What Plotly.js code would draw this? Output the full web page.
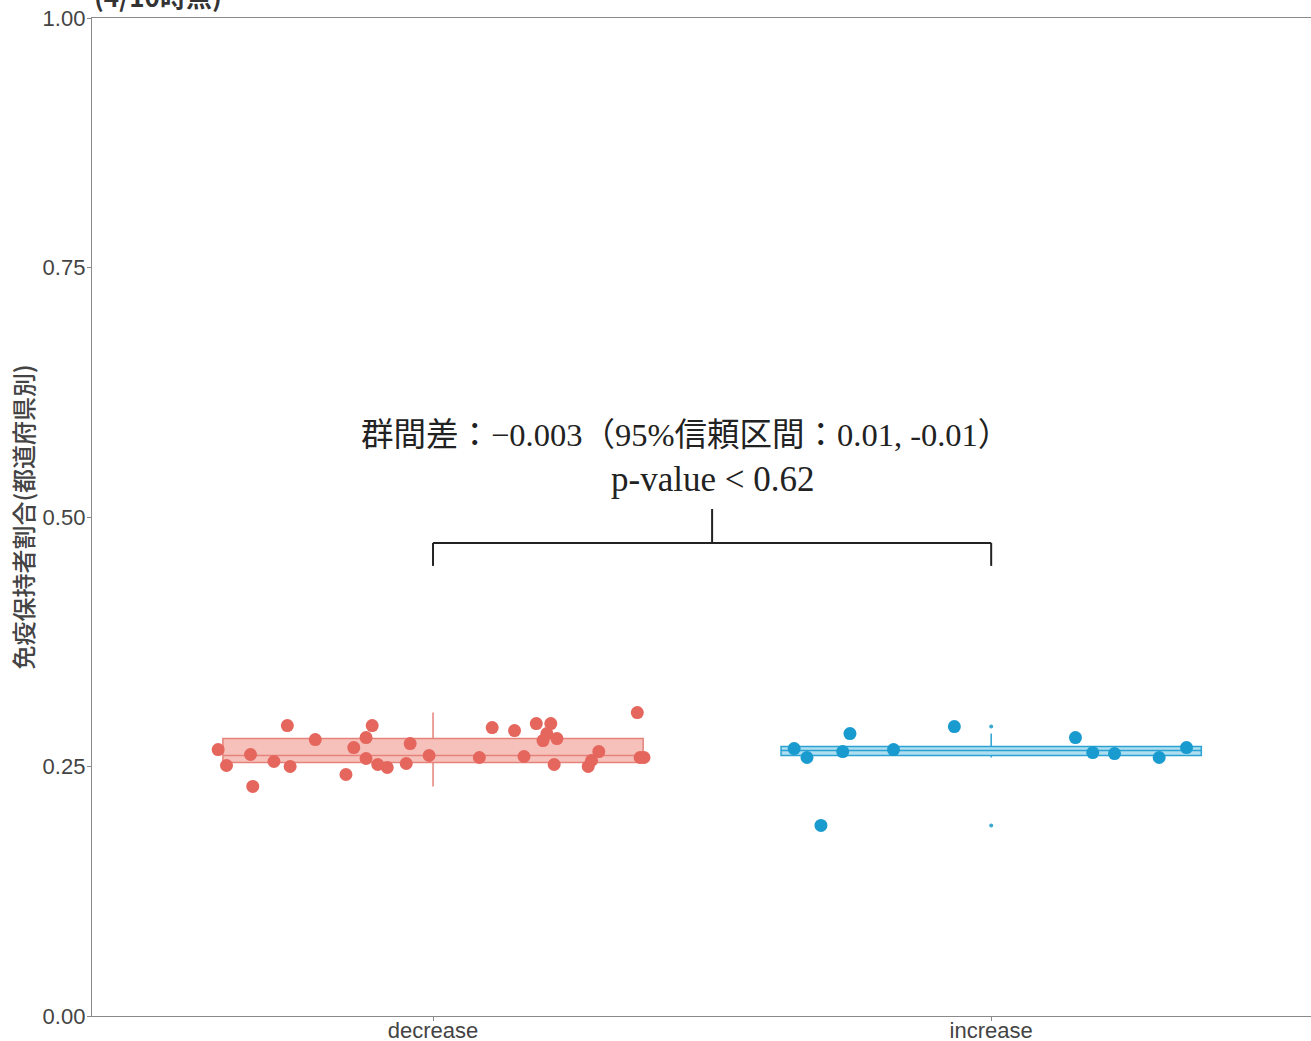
<!DOCTYPE html>
<html>
<head>
<meta charset="utf-8">
<script src="https://cdn.plot.ly/plotly-3.0.1.min.js"></script>
<style>html,body{margin:0;padding:0;background:#fff;}#chart{width:1311px;height:1041px;}</style>
</head>
<body>
<div id="chart"></div>
<script>
// Categories and tick labels
const categories = ["decrease", "increase"];
const yTickVals = [0, 0.25, 0.5, 0.75, 1.0];
const yTickText = ["0.00", "0.25", "0.50", "0.75", "1.00"];

// Jittered points: prefecture ratios
const decreaseValues = [0.267, 0.251, 0.262, 0.230, 0.255, 0.291, 0.250, 0.277, 0.242, 0.269,
  0.279, 0.291, 0.258, 0.252, 0.249, 0.253, 0.273, 0.261, 0.259, 0.289,
  0.286, 0.260, 0.293, 0.293, 0.276, 0.283, 0.278, 0.252, 0.250, 0.256,
  0.265, 0.304, 0.259, 0.259];
const decreaseJitter = [-0.385, -0.370, -0.327, -0.323, -0.285, -0.261, -0.256, -0.211, -0.156, -0.142,
  -0.120, -0.109, -0.120, -0.099, -0.082, -0.048, -0.041, -0.007, 0.083, 0.106,
  0.146, 0.163, 0.185, 0.211, 0.197, 0.204, 0.222, 0.217, 0.278, 0.284,
  0.297, 0.366, 0.371, 0.378];

const increaseValues = [0.268, 0.259, 0.191, 0.265, 0.283, 0.267, 0.290, 0.279, 0.264, 0.263, 0.259, 0.269];
const increaseJitter = [-0.353, -0.330, -0.305, -0.266, -0.253, -0.175, -0.066, 0.151, 0.182, 0.221, 0.301, 0.350];

// Box statistics
const decreaseBox = {q1: 0.254, median: 0.261, q3: 0.278, lower: 0.230, upper: 0.304};
const increaseBox = {q1: 0.261, median: 0.266, q3: 0.270, lower: 0.259, upper: 0.283};
const increaseOutliers = [0.290, 0.191];

// Comparison bracket (y values) and annotation texts
const bracketLegY = 0.451;
const bracketBarY = 0.474;
const bracketStemY = 0.508;
const diffText = "群間差：−0.003（95%信頼区間：0.01, -0.01）";
const pText = "p-value < 0.62";
const titleText = "(4/10時点)";
const yTitle = "免疫保持者割合(都道府県別)";

const red = "#E5665D";
const blue = "#1A9BCF";

function jitterX(center, offs) { return offs.map(o => center + o); }

const traces = [
  {
    type: "box", x: [0], q1: [decreaseBox.q1], median: [decreaseBox.median], q3: [decreaseBox.q3],
    lowerfence: [decreaseBox.lower], upperfence: [decreaseBox.upper],
    width: 0.753, whiskerwidth: 0, boxpoints: false,
    fillcolor: "rgba(238,140,132,0.55)", line: {color: "#E5837B", width: 1.5},
    showlegend: false, hoverinfo: "skip"
  },
  {
    type: "box", x: [1], q1: [increaseBox.q1], median: [increaseBox.median], q3: [increaseBox.q3],
    lowerfence: [increaseBox.lower], upperfence: [increaseBox.upper],
    width: 0.753, whiskerwidth: 0, boxpoints: false,
    fillcolor: "rgba(110,195,230,0.55)", line: {color: "#2AA3D2", width: 1.5},
    showlegend: false, hoverinfo: "skip"
  },
  {
    type: "scatter", mode: "markers", x: increaseOutliers.map(() => 1), y: increaseOutliers,
    marker: {color: "#3AA8D0", size: 4}, showlegend: false, hoverinfo: "skip"
  },
  {
    type: "scatter", mode: "markers", x: jitterX(0, decreaseJitter), y: decreaseValues,
    marker: {color: red, size: 13}, showlegend: false
  },
  {
    type: "scatter", mode: "markers", x: jitterX(1, increaseJitter), y: increaseValues,
    marker: {color: blue, size: 13}, showlegend: false
  }
];

const bracketLine = {color: "#222", width: 2};
const layout = {
  width: 1311, height: 1041,
  margin: {l: 92, r: 0, t: 18, b: 25, pad: 0},
  paper_bgcolor: "#fff", plot_bgcolor: "#fff",
  showlegend: false,
  xaxis: {
    range: [-0.611, 1.573], tickvals: [0, 1], ticktext: categories,
    showgrid: false, zeroline: false, showline: true, mirror: true,
    linecolor: "#8a8a8a", linewidth: 1.2, ticks: "outside", ticklen: 4, tickcolor: "#8a8a8a",
    ticklabelstandoff: -10,
    tickfont: {family: "Liberation Sans, Arial, sans-serif", size: 22, color: "#444"}
  },
  yaxis: {
    range: [0, 1], tickvals: yTickVals, ticktext: yTickText,
    showgrid: false, zeroline: false, showline: true,
    linecolor: "#8a8a8a", linewidth: 1.2, ticks: "outside", ticklen: 4, tickcolor: "#8a8a8a",
    ticklabelstandoff: -3,
    tickfont: {family: "Liberation Sans, Arial, sans-serif", size: 22, color: "#444"},
    title: {text: yTitle, standoff: 2,
      font: {family: "Noto Sans CJK JP, sans-serif", size: 24, color: "#444", weight: 500}}
  },
  shapes: [
    {type: "line", xref: "x", yref: "y", x0: 0, x1: 1, y0: bracketBarY, y1: bracketBarY, line: bracketLine},
    {type: "line", xref: "x", yref: "y", x0: 0, x1: 0, y0: bracketLegY, y1: bracketBarY, line: bracketLine},
    {type: "line", xref: "x", yref: "y", x0: 1, x1: 1, y0: bracketLegY, y1: bracketBarY, line: bracketLine},
    {type: "line", xref: "x", yref: "y", x0: 0.5, x1: 0.5, y0: bracketBarY, y1: bracketStemY, line: bracketLine}
  ],
  annotations: [
    {xref: "x", yref: "y", x: 0.452, y: 0.582, text: diffText, showarrow: false,
      xanchor: "center", yanchor: "middle",
      font: {family: "Liberation Serif, Noto Sans CJK JP, serif", size: 32.5, color: "#222"}},
    {xref: "x", yref: "y", x: 0.5, y: 0.538, text: pText, showarrow: false,
      xanchor: "center", yanchor: "middle",
      font: {family: "Liberation Serif, serif", size: 35, color: "#222"}},
    {xref: "paper", yref: "paper", x: 0.0, y: 1.023, text: titleText, showarrow: false,
      xanchor: "left", yanchor: "middle",
      font: {family: "Noto Sans CJK JP, sans-serif", size: 26, color: "#333", weight: 700}}
  ]
};

Plotly.newPlot("chart", traces, layout, {displayModeBar: false, staticPlot: true});
</script>
</body>
</html>
